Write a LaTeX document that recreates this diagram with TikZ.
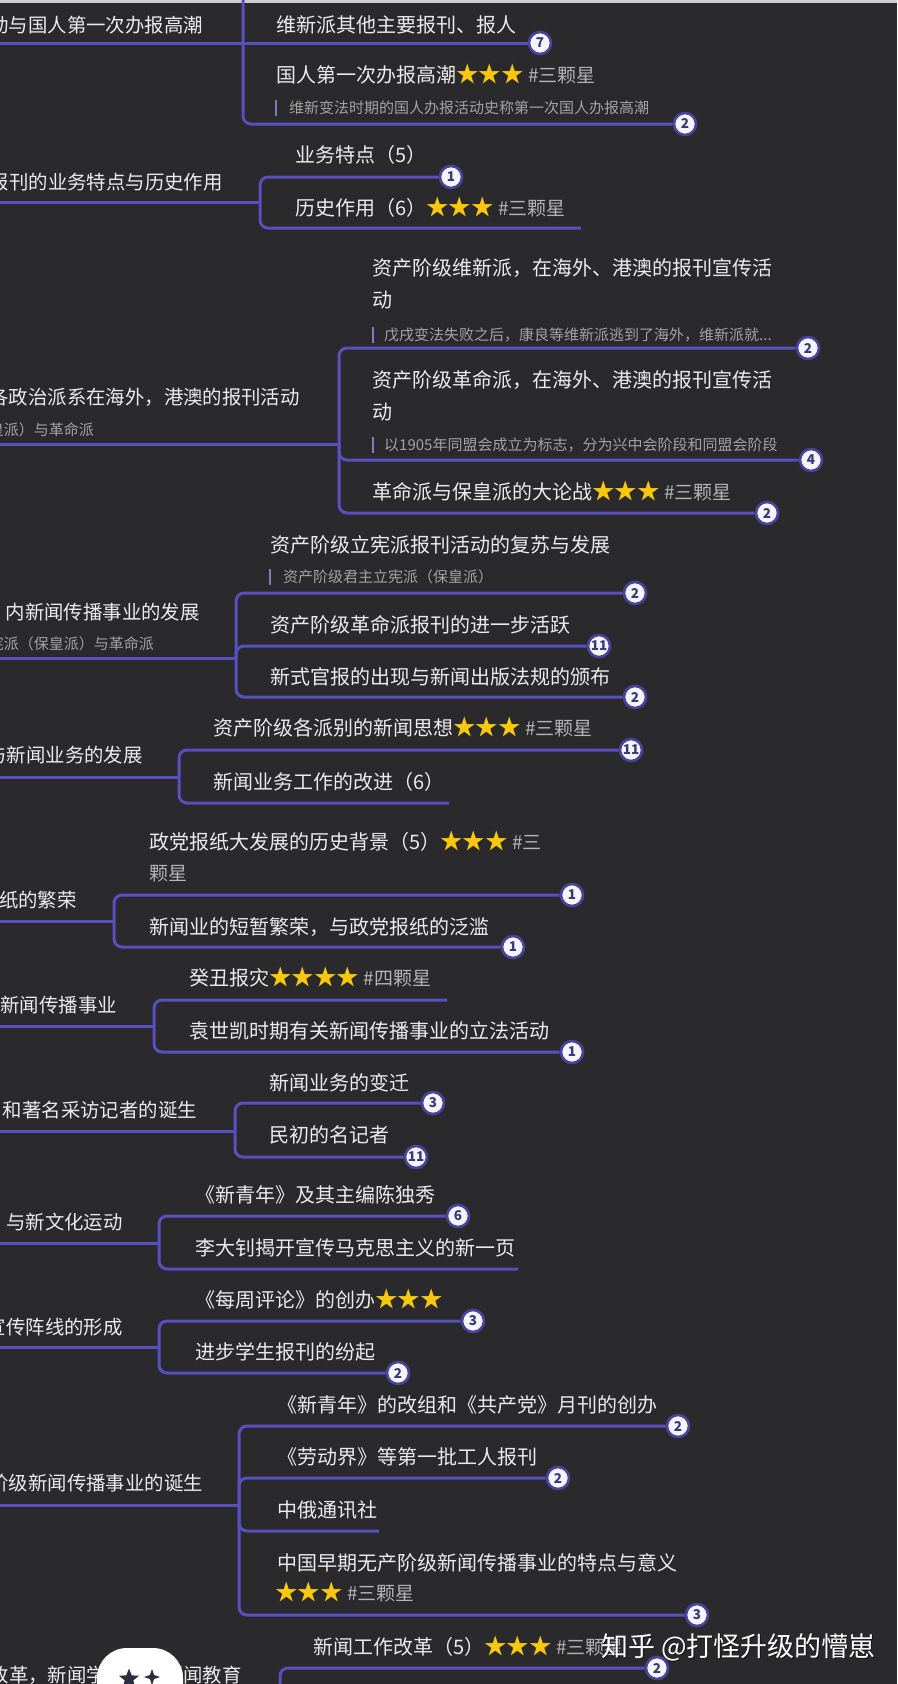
\documentclass[tikz,border=0pt]{standalone}
\usepackage{fontspec}
\setmainfont{Noto Sans CJK SC}
\usetikzlibrary{shapes.geometric}

\definecolor{bgc}{HTML}{2A2A2C}
\definecolor{topc}{HTML}{CFCFD2}
\definecolor{linec}{HTML}{5850BE}
\definecolor{txtc}{HTML}{EBEBEB}
\definecolor{notec}{HTML}{A3A3A6}
\definecolor{tagc}{HTML}{B4B4B8}
\definecolor{starc}{HTML}{F9C80E}
\definecolor{ringc}{HTML}{4A439E}
\definecolor{badgec}{HTML}{F4F4FB}
\definecolor{numc}{HTML}{3A3878}
\definecolor{barc}{HTML}{7E7AC4}
\definecolor{iconc}{HTML}{2B2D42}

\newcommand{\starrow}[1]{{\color{starc}\fontsize{22.5}{22}\selectfont #1}}
\newcommand{\hashtag}[1]{{\color{tagc}\fontsize{19}{22}\selectfont\#{}#1}}

\tikzset{
  branch/.style={linec, line width=3pt, rounded corners=8pt},
  topic/.style={anchor=base west, inner sep=0pt, text=txtc, font=\fontsize{20}{24}\selectfont},
  parent/.style={anchor=base east, inner sep=0pt, text=txtc, font=\fontsize{19.4}{24}\selectfont},
  note/.style={anchor=base west, inner sep=0pt, text=notec, font=\fontsize{15}{18}\selectfont},
  subnote/.style={note, anchor=base east},
  notebar/.style={barc, line width=1.8pt},
  badge/.style={circle, draw=ringc, line width=2.6pt, fill=badgec, text=numc, inner sep=0pt,
    minimum size=22pt, font=\fontsize{13.5}{13.5}\selectfont\bfseries},
}

\begin{document}
\begin{tikzpicture}[x=1pt,y=-1pt]
\useasboundingbox (0,0) rectangle (897,1684);
\fill[bgc] (0,0) rectangle (897,1684);
\clip (0,0) rectangle (897,1684);
\fill[topc] (0,0) rectangle (897,2.5);

% 国人第一次办报高潮
\coordinate (p1) at (0,43);
\coordinate (f1) at (243,43);
\coordinate (f1top) at (243,-5);
\node[parent] (t1) at (203,32) {动与国人第一次办报高潮};
\node[topic] (c1a) at (276,32) {维新派其他主要报刊、报人};
\node[badge] (b1a) at (540,43) {7};
\node[topic] (c1b) at (276,82) {国人第一次办报高潮\starrow{★★★} \hashtag{三颗星}};
\draw[notebar] (276,100) -- (276,116);
\node[note] (n1b) at (289,113.5) {维新变法时期的国人办报活动史称第一次国人办报高潮};
\node[badge] (b1b) at (685,124) {2};
\draw[branch] (p1) -- (f1);
\draw[branch] (f1) -- (b1a);
\draw[branch] (f1top) |- (b1b);

% 业务特点与历史作用
\coordinate (p2) at (0,202);
\coordinate (f2) at (260,202);
\node[parent] (t2) at (223,189) {报刊的业务特点与历史作用};
\node[topic] (c2a) at (295,162) {业务特点（5）};
\node[badge] (b2a) at (451,177) {1};
\node[topic] (c2b) at (295,215) {历史作用（6）\starrow{★★★} \hashtag{三颗星}};
\coordinate (e2b) at (581,228);
\draw[branch] (p2) -- (f2);
\draw[branch] (f2) |- (b2a);
\draw[branch] (f2) |- (e2b);

% 海外、港澳
\coordinate (p3) at (0,444);
\coordinate (f3) at (339,444);
\node[parent] (t3) at (300,404) {各政治派系在海外，港澳的报刊活动};
\node[subnote] (s3) at (94,435.5) {皇派）与革命派};
\node[topic] (c3a) at (372,275) {资产阶级维新派，在海外、港澳的报刊宣传活};
\node[topic] (c3a2) at (372,307) {动};
\draw[notebar] (373,327) -- (373,343);
\node[note] (n3a) at (384,340.5) {戊戌变法失败之后，康良等维新派逃到了海外，维新派就...};
\node[badge] (b3a) at (808,348) {2};
\node[topic] (c3b) at (372,387) {资产阶级革命派，在海外、港澳的报刊宣传活};
\node[topic] (c3b2) at (372,419) {动};
\draw[notebar] (373,437) -- (373,453);
\node[note] (n3b) at (384,450.5) {以1905年同盟会成立为标志，分为兴中会阶段和同盟会阶段};
\node[badge] (b3b) at (811,460) {4};
\node[topic] (c3c) at (372,499) {革命派与保皇派的大论战\starrow{★★★} \hashtag{三颗星}};
\node[badge] (b3c) at (767,513) {2};
\draw[branch] (p3) -- (f3);
\draw[branch] (f3) |- (b3a);
\draw[branch] (f3) |- (b3b);
\draw[branch] (f3) |- (b3c);

% 国内新闻传播事业的发展
\coordinate (p4) at (0,658);
\coordinate (f4) at (236,658);
\node[parent] (t4) at (200,619) {内新闻传播事业的发展};
\node[subnote] (s4) at (154,649.5) {宪派（保皇派）与革命派};
\node[topic] (c4a) at (270,552) {资产阶级立宪派报刊活动的复苏与发展};
\draw[notebar] (270,569) -- (270,585);
\node[note] (n4a) at (283,582.5) {资产阶级君主立宪派（保皇派）};
\node[badge] (b4a) at (635,593) {2};
\node[topic] (c4b) at (270,632) {资产阶级革命派报刊的进一步活跃};
\node[badge] (b4b) at (599,646) {11};
\node[topic] (c4c) at (270,684) {新式官报的出现与新闻出版法规的颁布};
\node[badge] (b4c) at (635,697) {2};
\draw[branch] (p4) -- (f4);
\draw[branch] (f4) |- (b4a);
\draw[branch] (f4) |- (b4b);
\draw[branch] (f4) |- (b4c);

% 新闻业务的发展
\coordinate (p5) at (0,777);
\coordinate (f5) at (179,777);
\node[parent] (t5) at (143,762) {与新闻业务的发展};
\node[topic] (c5a) at (213,735) {资产阶级各派别的新闻思想\starrow{★★★} \hashtag{三颗星}};
\node[badge] (b5a) at (631,750) {11};
\node[topic] (c5b) at (213,789) {新闻业务工作的改进（6）};
\coordinate (e5b) at (449,803);
\draw[branch] (p5) -- (f5);
\draw[branch] (f5) |- (b5a);
\draw[branch] (f5) |- (e5b);

% 政党报纸的繁荣
\coordinate (p6) at (0,921);
\coordinate (f6) at (114,921);
\node[parent] (t6) at (77,907) {纸的繁荣};
\node[topic] (c6a) at (149,849) {政党报纸大发展的历史背景（5）\starrow{★★★} \hashtag{三}};
\node[topic, text=tagc, font=\fontsize{19}{22}\selectfont] (c6a2) at (149,880) {颗星};
\node[badge] (b6a) at (572,895) {1};
\node[topic] (c6b) at (149,934) {新闻业的短暂繁荣，与政党报纸的泛滥};
\node[badge] (b6b) at (513,947) {1};
\draw[branch] (p6) -- (f6);
\draw[branch] (f6) |- (b6a);
\draw[branch] (f6) |- (b6b);

% 新闻传播事业
\coordinate (p7) at (0,1026);
\coordinate (f7) at (154,1026);
\node[parent] (t7) at (117,1012) {新闻传播事业};
\node[topic] (c7a) at (189,985) {癸丑报灾\starrow{★★★★} \hashtag{四颗星}};
\coordinate (e7a) at (447,1000);
\node[topic] (c7b) at (189,1038) {袁世凯时期有关新闻传播事业的立法活动};
\node[badge] (b7b) at (572,1052) {1};
\draw[branch] (p7) -- (f7);
\draw[branch] (f7) |- (e7a);
\draw[branch] (f7) |- (b7b);

% 名记者
\coordinate (p8) at (0,1131);
\coordinate (f8) at (235,1131);
\node[parent] (t8) at (197,1117) {和著名采访记者的诞生};
\node[topic] (c8a) at (269,1090) {新闻业务的变迁};
\node[badge] (b8a) at (433,1103) {3};
\node[topic] (c8b) at (269,1142) {民初的名记者};
\node[badge] (b8b) at (416,1157) {11};
\draw[branch] (p8) -- (f8);
\draw[branch] (f8) |- (b8a);
\draw[branch] (f8) |- (b8b);

% 新文化运动
\coordinate (p9) at (0,1243);
\coordinate (f9) at (159,1243);
\node[parent] (t9) at (123,1229) {与新文化运动};
\node[topic] (c9a) at (195,1202) {《新青年》及其主编陈独秀};
\node[badge] (b9a) at (458,1216) {6};
\node[topic] (c9b) at (195,1255) {李大钊揭开宣传马克思主义的新一页};
\coordinate (e9b) at (518,1269);
\draw[branch] (p9) -- (f9);
\draw[branch] (f9) |- (b9a);
\draw[branch] (f9) |- (e9b);

% 宣传阵线
\coordinate (p10) at (0,1347);
\coordinate (f10) at (159,1347);
\node[parent] (t10) at (123,1334) {宣传阵线的形成};
\node[topic] (c10a) at (195,1307) {《每周评论》的创办\starrow{★★★}};
\node[badge] (b10a) at (473,1321) {3};
\node[topic] (c10b) at (195,1359) {进步学生报刊的纷起};
\node[badge] (b10b) at (398,1373) {2};
\draw[branch] (p10) -- (f10);
\draw[branch] (f10) |- (b10a);
\draw[branch] (f10) |- (b10b);

% 无产阶级新闻传播事业
\coordinate (p11) at (0,1505);
\coordinate (f11) at (239,1505);
\node[parent] (t11) at (203,1490) {阶级新闻传播事业的诞生};
\node[topic] (c11a) at (277,1412) {《新青年》的改组和《共产党》月刊的创办};
\node[badge] (b11a) at (678,1426) {2};
\node[topic] (c11b) at (277,1464) {《劳动界》等第一批工人报刊};
\node[badge] (b11b) at (558,1478) {2};
\node[topic] (c11c) at (277,1517) {中俄通讯社};
\coordinate (e11c) at (379,1531);
\node[topic] (c11d) at (277,1570) {中国早期无产阶级新闻传播事业的特点与意义};
\node[topic] (c11d2) at (275,1600) {\starrow{★★★} \hashtag{三颗星}};
\node[badge] (b11d) at (697,1615) {3};
\draw[branch] (p11) -- (f11);
\draw[branch] (f11) |- (b11a);
\draw[branch] (f11) |- (b11b);
\draw[branch] (f11) |- (e11c);
\draw[branch] (f11) |- (b11d);

% 新闻工作改革
\coordinate (f12) at (280,1700);
\node[parent] (t12) at (242,1682) {改革，新闻学研究与新闻教育};
\node[topic] (c12a) at (313,1654) {新闻工作改革（5）\starrow{★★★} \hashtag{三颗星}};
\node[badge] (b12a) at (657,1668) {2};
\draw[branch] (f12) |- (b12a);

% watermark
\node[anchor=base west, inner sep=0pt, text=black, opacity=.5, font=\fontsize{27}{27}\selectfont] (wms) at (602,1657) {知乎 @打怪升级的懵崽};
\node[anchor=base west, inner sep=0pt, text=white, font=\fontsize{27}{27}\selectfont] (wm) at (601,1656) {知乎 @打怪升级的懵崽};

% floating button
\fill[white, rounded corners=30pt] (97,1648) rectangle (183,1730);
\node[star, star points=5, star point ratio=2.3, fill=iconc, minimum size=21pt, inner sep=0pt] (ic1) at (129,1679) {};
\node[star, star points=4, star point ratio=2.8, fill=iconc, minimum size=16pt, inner sep=0pt] (ic2) at (152,1677) {};
\end{tikzpicture}
\end{document}
